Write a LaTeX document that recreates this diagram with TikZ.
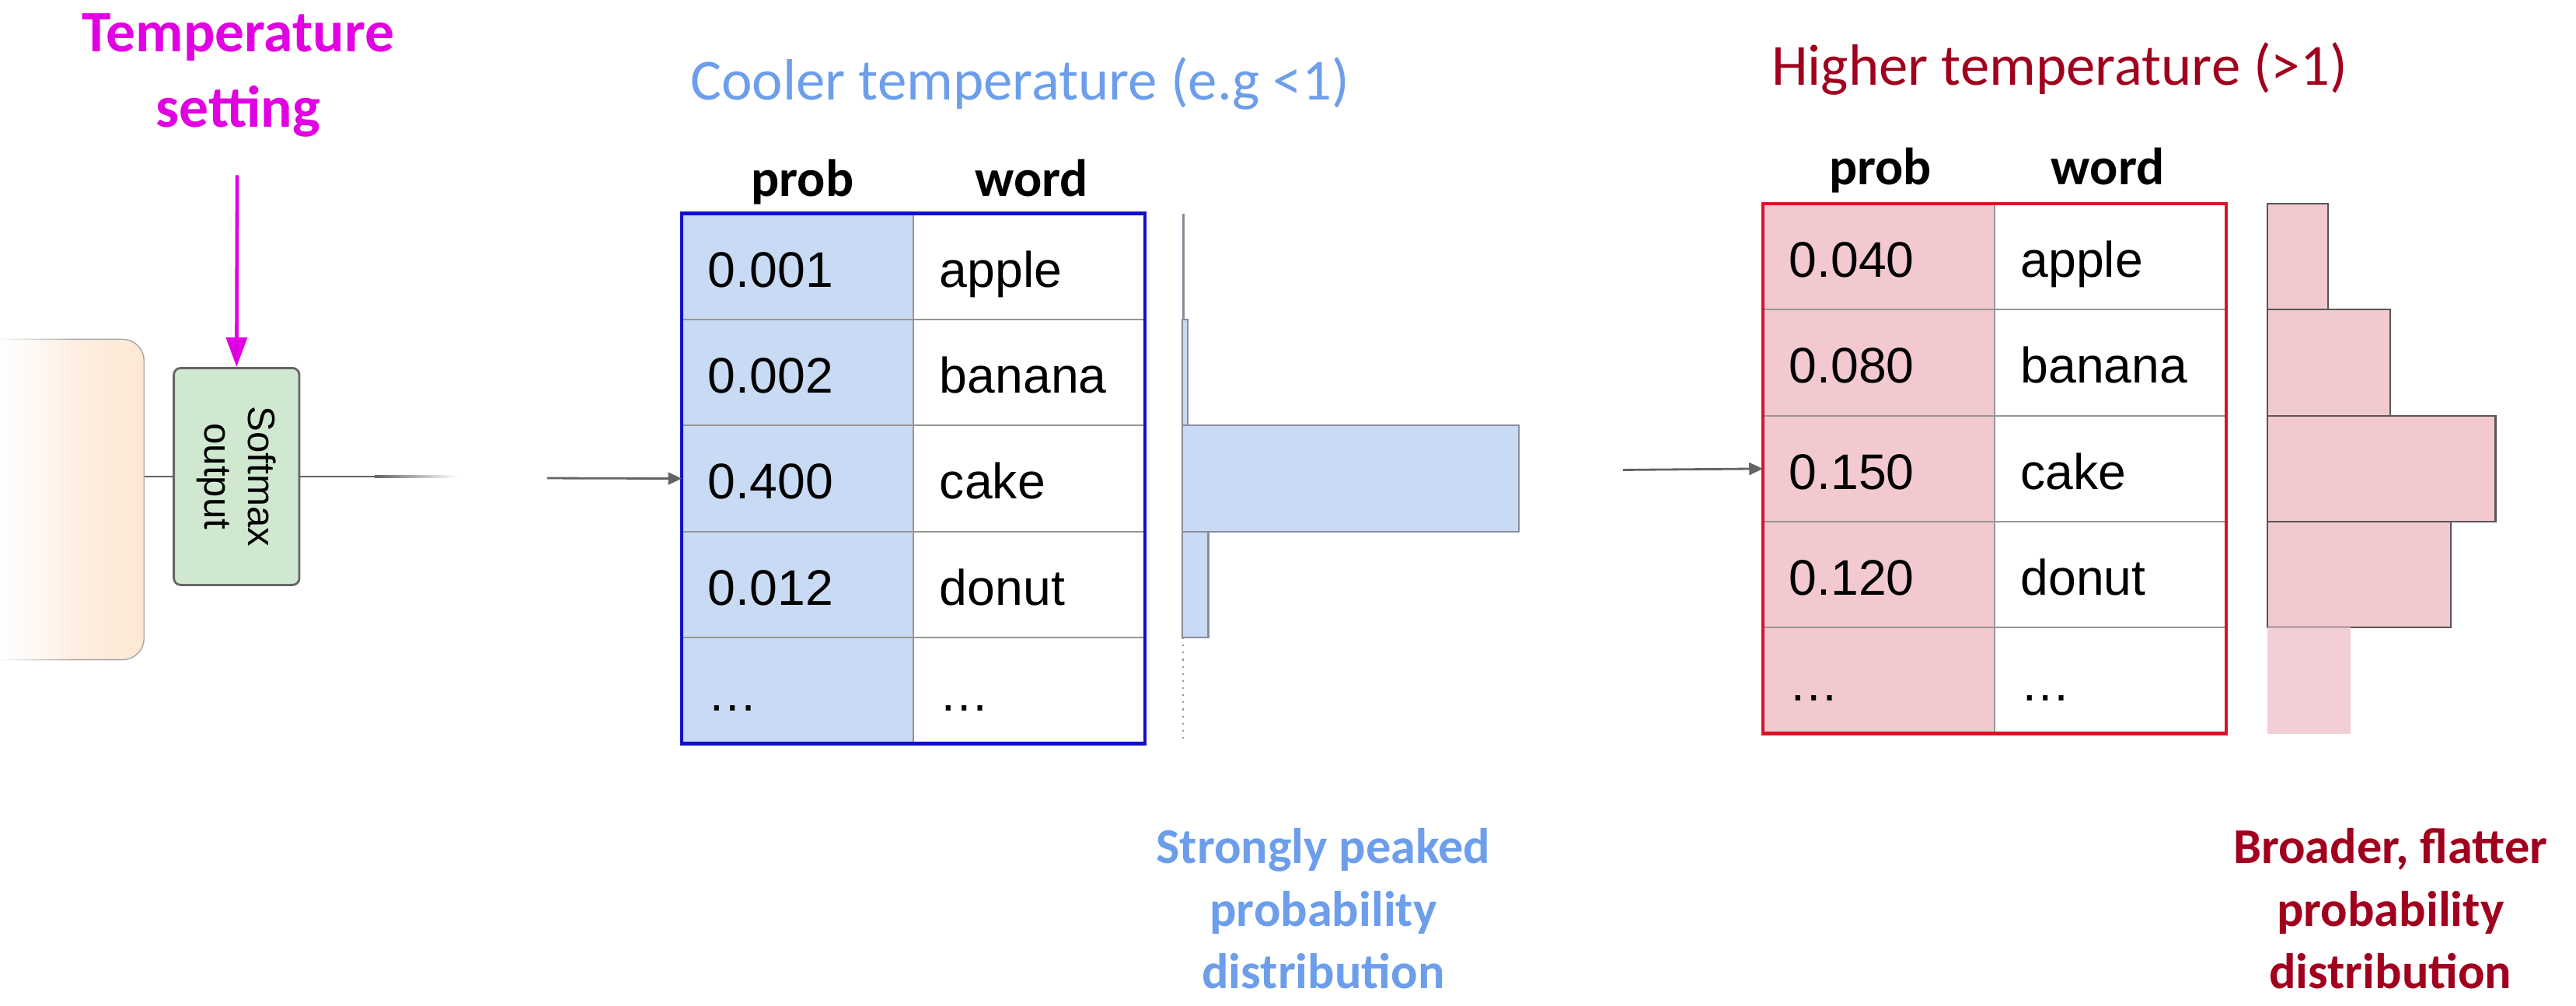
\documentclass[tikz,border=0pt]{standalone}
\usepackage{fontspec}
\setmainfont{Liberation Sans}
\newfontfamily\calib{Carlito}
\usetikzlibrary{arrows.meta,calc,positioning,fadings}
\newlength\ux \setlength\ux{0.021135cm}
\definecolor{coolblue}{RGB}{109,158,235}
\definecolor{cellblue}{RGB}{201,218,244}
\definecolor{edgeblue}{RGB}{16,16,200}
\definecolor{hotred}{RGB}{160,0,30}
\definecolor{cellpink}{RGB}{242,201,207}
\definecolor{edgered}{RGB}{215,20,40}
\definecolor{magent}{RGB}{225,0,225}
\definecolor{mintbox}{RGB}{208,232,208}
\definecolor{peach}{RGB}{253,232,212}
\definecolor{gridgray}{RGB}{150,150,150}
\definecolor{bargray}{RGB}{135,140,155}
\definecolor{linegray}{RGB}{100,100,100}
\begin{document}
\begin{tikzpicture}[x=0.021135cm,y=-0.021135cm,
  cell/.style={draw=gridgray,line width=0.6pt,fill=#1,anchor=north west,outer sep=0pt,
    text width=109\ux,align=left,inner xsep=16\ux,inner ysep=0pt,minimum height=64.5\ux,
    text height=15pt,text depth=0pt,font=\fontsize{18.3}{22}\selectfont},
  hdr/.style={anchor=base,inner sep=0pt,font=\calib\bfseries\fontsize{19.2}{23}\selectfont},
  ttl/.style={anchor=base west,inner sep=0pt,text=#1,font=\calib\fontsize{21.3}{25}\selectfont},
  cap/.style={align=center,inner sep=0pt,text=#1,font=\calib\bfseries\fontsize{18.3}{23}\selectfont},
  feed/.style={linegray,line width=0.8pt,-{Triangle[width=4.5pt,length=5pt]}},
  bar/.style={draw=#1,line width=0.6pt}]
  \useasboundingbox (0,0) rectangle (1568,612);
  % softmax stage
  \node[shade,left color=white,right color=peach,draw=gray!70,rounded corners=7.8pt,
    minimum width=140\ux,minimum height=195\ux,anchor=east] (ctx) at (88,304) {};
  \fill[white,path fading=east] (-2,190) rectangle (45,420);
  \node[draw=gray!80!black,fill=mintbox,rounded corners=2.5pt,line width=0.8pt,
    minimum width=76.4\ux,minimum height=132\ux] (softmax) at (144,290) {};
  \node[rotate=-90,align=center,font=\fontsize{14}{16}\selectfont] (softtxt) at (softmax.center) {Softmax\\output};
  \draw[linegray,line width=0.8pt] (ctx.east |- softmax.west) -- (softmax.west);
  \draw[linegray,line width=0.8pt] (softmax.east) -- (228,290) coordinate (fadeA);
  \shade[left color=linegray,right color=white] ($(fadeA)+(0,-0.65)$) rectangle (278,290.65);
  \node[align=center,text=magent,font=\calib\bfseries\fontsize{21.5}{27.6}\selectfont] (tempset) at (145,46) {Temperature\\setting};
  \coordinate (magtop) at (144.4,106.6);
  \draw[magent,line width=1.3pt,-{Triangle[width=7.6pt,length=10.8pt]}] (magtop) -- (softmax.north);
  % cooler table
  \foreach \p/\w [count=\i] in {0.001/apple,0.002/banana,0.400/cake,0.012/donut,…/…}{
    \node[cell=cellblue] (bp\i) at (415,{130+64.5*(\i-1)}) {\p};
    \node[cell=white] (bw\i) at (bp\i.north east) {\w};
  }
  \draw[edgeblue,line width=1.3pt] (bp1.north west) rectangle (bw5.south east);
  \node[hdr] (bprob) at ($(bp1.north)+(3,-10.3)$) {prob};
  \node[hdr] (bword) at ($(bw1.north)+(1.5,-10.3)$) {word};
  \node[ttl=coolblue] (btitle) at ($(bp1.north west)+(5,-69.4)$) {Cooler temperature (e.g <1)};
  \coordinate (bin) at (333,291);
  \draw[feed] (bin) -- (bp3.west);
  \draw[bargray,line width=0.7pt] (720.3,130) -- (720.3,194.5);
  \foreach \len [count=\i from 2] in {3.5,205,16}{
    \draw[bar=bargray,fill=cellblue] (719.5,{130+64.5*(\i-1)}) rectangle +(\len,64.5);
  }
  \draw[gridgray,dotted,line width=0.6pt] (720.3,388) -- (720.3,452.5);
  \node[cap=coolblue] (bcap) at (805.5,553) {Strongly peaked\\probability\\distribution};
  % higher table
  \foreach \p/\w [count=\i] in {0.040/apple,0.080/banana,0.150/cake,0.120/donut,…/…}{
    \node[cell=cellpink] (rp\i) at (1073,{124+64.5*(\i-1)}) {\p};
    \node[cell=white] (rw\i) at (rp\i.north east) {\w};
  }
  \draw[edgered,line width=1.3pt] (rp1.north west) rectangle (rw5.south east);
  \node[hdr] (rprob) at ($(rp1.north)+(1,-11.4)$) {prob};
  \node[hdr] (rword) at ($(rw1.north)+(-1.5,-11.4)$) {word};
  \node[ttl=hotred] (rtitle) at ($(rp1.north west)+(5,-72)$) {Higher temperature (>1)};
  \coordinate (rin) at (988,286);
  \draw[feed] (rin) -- (rp3.west);
  \foreach \len [count=\i] in {37,75,139,112}{
    \draw[bar=gray!80!cellpink!60!black,fill=cellpink] (1380,{124+64.5*(\i-1)}) rectangle +(\len,64.5);
  }
  \fill[cellpink!90] (1380,382) rectangle +(51,64.5);
  \node[cap=hotred] (rcap) at (1455,553) {Broader, flatter\\probability\\distribution};
\end{tikzpicture}
\end{document}
